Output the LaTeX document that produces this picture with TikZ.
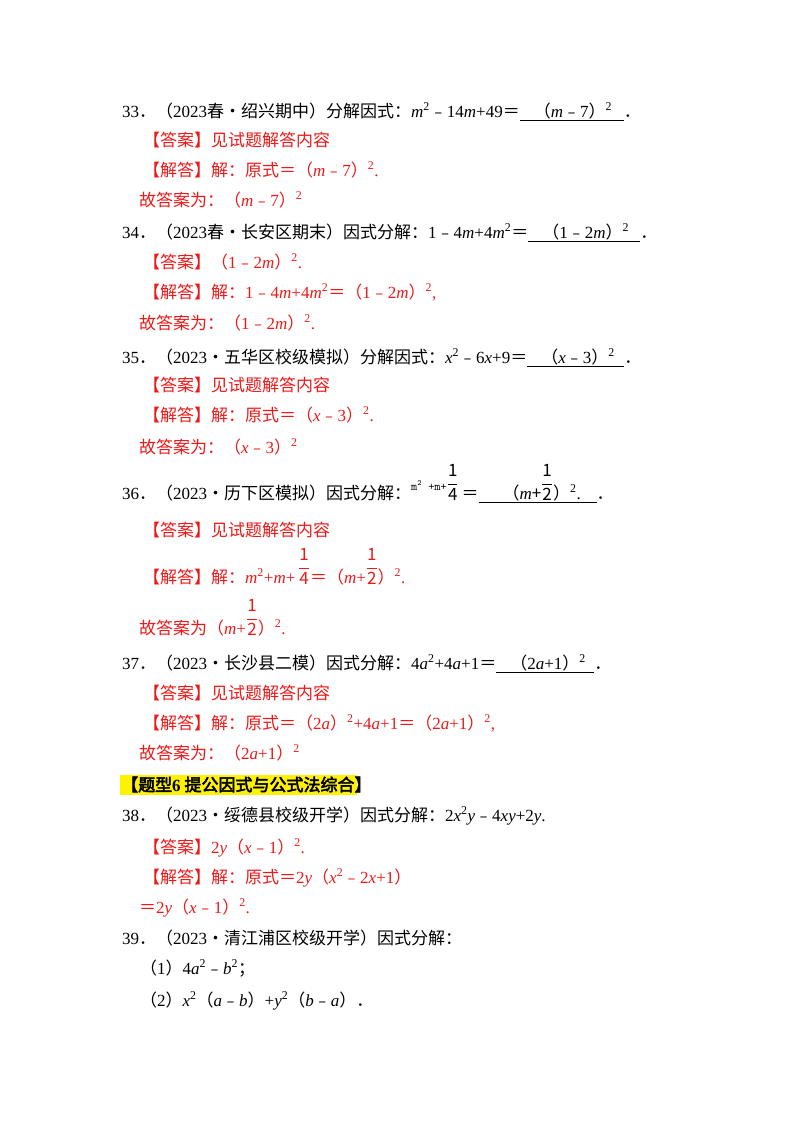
\documentclass[tikz,border=0pt]{standalone}
\usepackage{fontspec}
\setmainfont{Noto Sans CJK SC}
\newfontfamily\ser{Liberation Serif}
\newfontfamily\cjb[FakeBold=3]{Noto Sans CJK SC}
\newcommand\E[1]{{\ser #1}}
\newcommand\V[1]{{\ser\itshape #1}}
\newcommand\Sp[1]{\textsuperscript{\ser #1}}
\newcommand\ul[2]{\underline{\makebox[#1][l]{\hspace{14pt}#2}}}
\newcommand\fr[2]{\raisebox{0.62em}{\fontsize{17}{20}\selectfont$\displaystyle\frac{\mathrm{#1}}{\mathrm{#2}}$}}
\definecolor{ansred}{rgb}{0.93,0.1,0.1}
\tikzset{t/.style={anchor=base west,inner sep=0,font=\fontsize{17}{20}\selectfont},
 r/.style={t,text=ansred}}
\begin{document}
\begin{tikzpicture}[x=1pt,y=-1pt]
\useasboundingbox[fill=white] (0,0) rectangle (800,1132);
\node[t] (q33) at (122,117) {\E{33}．（\E{2023}春•绍兴期中）分解因式：\V{m}\Sp{2}﹣\E{14}\V{m}\E{+49}＝\ul{104pt}{（\V{m}﹣\E{7}）\Sp{2}}．};
\node[r] (a33) at (143,146) {【答案】见试题解答内容};
\node[r] (s33) at (143,176) {【解答】解：原式＝（\V{m}﹣\E{7}）\Sp{2}\E{.}};
\node[r] (g33) at (139,206) {故答案为：（\V{m}﹣\E{7}）\Sp{2}};
\node[t] (q34) at (122,238) {\E{34}．（\E{2023}春•长安区期末）因式分解：\E{1}﹣\E{4}\V{m}\E{+4}\V{m}\Sp{2}＝\ul{112pt}{（\E{1}﹣\E{2}\V{m}）\Sp{2}}．};
\node[r] (a34) at (143,268) {【答案】（\E{1}﹣\E{2}\V{m}）\Sp{2}\E{.}};
\node[r] (s34) at (143,298) {【解答】解：\E{1}﹣\E{4}\V{m}\E{+4}\V{m}\Sp{2}＝（\E{1}﹣\E{2}\V{m}）\Sp{2}\E{,}};
\node[r] (g34) at (139,329) {故答案为：（\E{1}﹣\E{2}\V{m}）\Sp{2}\E{.}};
\node[t] (q35) at (122,363) {\E{35}．（\E{2023}•五华区校级模拟）分解因式：\V{x}\Sp{2}﹣\E{6}\V{x}\E{+9}＝\ul{97pt}{（\V{x}﹣\E{3}）\Sp{2}}．};
\node[r] (a35) at (143,391) {【答案】见试题解答内容};
\node[r] (s35) at (143,421) {【解答】解：原式＝（\V{x}﹣\E{3}）\Sp{2}\E{.}};
\node[r] (g35) at (139,453) {故答案为：（\V{x}﹣\E{3}）\Sp{2}};
\node[t] (q36) at (122,499) {\E{36}．（\E{2023}•历下区模拟）因式分解：\raisebox{9pt}{\fontsize{12}{14}\selectfont\ttfamily m\textsuperscript{2} +m+}\fr{1}{4}\,＝\ul{118pt}{\hspace{10pt}（\V{m}+\fr{1}{2}）\Sp{2}\E{.}}．};
\node[r] (a36) at (143,536) {【答案】见试题解答内容};
\node[r] (s36) at (143,583) {【解答】解：\V{m}\Sp{2}\E{+}\V{m}\E{+}\,\fr{1}{4}＝（\V{m}\E{+}\fr{1}{2}）\Sp{2}\E{.}};
\node[r] (g36) at (139,634) {故答案为（\V{m}\E{+}\fr{1}{2}）\Sp{2}\E{.}};
\node[t] (q37) at (122,669) {\E{37}．（\E{2023}•长沙县二模）因式分解：\E{4}\V{a}\Sp{2}\E{+4}\V{a}\E{+1}＝\ul{98pt}{（\E{2}\V{a}\E{+1}）\Sp{2}}．};
\node[r] (a37) at (143,699) {【答案】见试题解答内容};
\node[r] (s37) at (143,729) {【解答】解：原式＝（\E{2}\V{a}）\Sp{2}\E{+4}\V{a}\E{+1}＝（\E{2}\V{a}\E{+1}）\Sp{2}\E{,}};
\node[r] (g37) at (139,759) {故答案为：（\E{2}\V{a}\E{+1}）\Sp{2}};
\fill[yellow] (120,775) rectangle (357,795);
\node[t] (h6) at (121,791) {\cjb【题型\E{\bfseries 6} 提公因式与公式法综合】};
\node[t] (q38) at (122,821) {\E{38}．（\E{2023}•绥德县校级开学）因式分解：\E{2}\V{x}\Sp{2}\V{y}﹣\E{4}\V{xy}\E{+2}\V{y}\E{.}};
\node[r] (a38) at (143,853) {【答案】\E{2}\V{y}（\V{x}﹣\E{1}）\Sp{2}\E{.}};
\node[r] (s38) at (143,883) {【解答】解：原式＝\E{2}\V{y}（\V{x}\Sp{2}﹣\E{2}\V{x}\E{+1}）};
\node[r] (e38) at (139,913) {＝\E{2}\V{y}（\V{x}﹣\E{1}）\Sp{2}\E{.}};
\node[t] (q39) at (122,944) {\E{39}．（\E{2023}•清江浦区校级开学）因式分解：};
\node[t] (p1) at (140,974) {（\E{1}）\E{4}\V{a}\Sp{2}﹣\V{b}\Sp{2}；};
\node[t] (p2) at (140,1006) {（\E{2}）\V{x}\Sp{2}（\V{a}﹣\V{b}）\E{+}\V{y}\Sp{2}（\V{b}﹣\V{a}）．};
\end{tikzpicture}
\end{document}
